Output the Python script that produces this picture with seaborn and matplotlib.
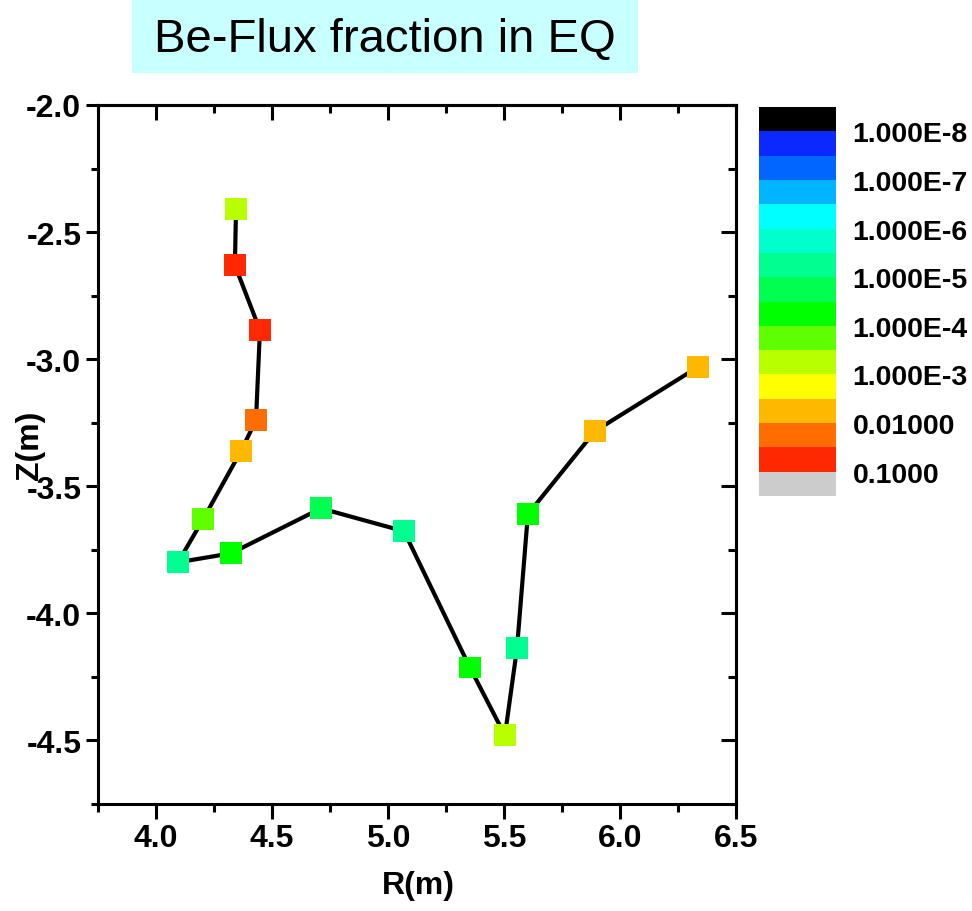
import numpy as np
import pandas as pd
import matplotlib
matplotlib.use("Agg")
import matplotlib.pyplot as plt
import seaborn as sns
from matplotlib.colors import ListedColormap, BoundaryNorm
from matplotlib.cm import ScalarMappable
from matplotlib.patches import Rectangle
from matplotlib.ticker import MultipleLocator

# ---- data ----
R = [4.345, 4.340, 4.448, 4.431, 4.366, 4.203, 4.095, 4.323, 4.711, 5.069,
     5.353, 5.504, 5.556, 5.603, 5.892, 6.336]
Z = [-2.409, -2.630, -2.886, -3.240, -3.362, -3.630, -3.799, -3.764, -3.587, -3.677,
     -4.213, -4.480, -4.138, -3.610, -3.283, -3.031]
flux = [5.6e-4, 0.056, 0.056, 0.018, 0.0056, 1.8e-4, 5.6e-6, 5.6e-5, 1.8e-5, 5.6e-6,
        5.6e-5, 5.6e-4, 5.6e-6, 5.6e-5, 0.0056, 0.0056]
level_colors = ["#000000", "#0A28FF", "#0066FF", "#00B4FF", "#00FFFF", "#00FFCC",
                "#00FF90", "#00FF50", "#00FF00", "#60FF00", "#B8FF00", "#FFFF00",
                "#FFB800", "#FF6C00", "#FF2800", "#CCCCCC"]
cbar_ticks = [-8, -7, -6, -5, -4, -3, -2, -1]
cbar_labels = ["1.000E-8", "1.000E-7", "1.000E-6", "1.000E-5", "1.000E-4",
               "1.000E-3", "0.01000", "0.1000"]
x_ticks = [4.0, 4.5, 5.0, 5.5, 6.0, 6.5]
y_ticks = [-2.0, -2.5, -3.0, -3.5, -4.0, -4.5]

sns.set_theme(style="ticks")
plt.rcParams["font.family"] = ["Liberation Sans", "DejaVu Sans"]
plt.rcParams.update({"text.color": "black", "xtick.color": "black",
                     "ytick.color": "black", "axes.labelcolor": "black",
                     "axes.edgecolor": "black"})
lab = dict(fontfamily=["Liberation Sans", "DejaVu Sans"], fontweight="bold",
           fontsize=23, color="black")

cmap = ListedColormap(level_colors)
bounds = np.arange(-8.5, -0.49, 0.5)
norm = BoundaryNorm(bounds, cmap.N)

df = pd.DataFrame({"R": R, "Z": Z, "logf": np.log10(flux)})
df["color"] = [matplotlib.colors.to_hex(cmap(norm(v))) for v in df["logf"]]
df["idx"] = range(len(df))

W, H = 972, 912
fig = plt.figure(figsize=(W / 100, H / 100), dpi=100)

def fx(px):
    return px / W

def fy(py):
    return 1 - py / H

ax = fig.add_axes([fx(98), fy(805), fx(736) - fx(98), fy(106) - fy(805)])
sns.lineplot(data=df, x="R", y="Z", sort=False, estimator=None, color="black",
             linewidth=3, ax=ax, zorder=2)
pal = {i: c for i, c in zip(df["idx"], df["color"])}
sns.scatterplot(data=df, x="R", y="Z", hue="idx", palette=pal, legend=False,
                marker="s", s=250, linewidth=0, ax=ax, zorder=3)

ax.set_xlim(3.75, 6.5)
ax.set_ylim(-4.75, -2.0)
ax.set_xticks(x_ticks)
ax.set_yticks(y_ticks)
ax.xaxis.set_minor_locator(MultipleLocator(0.25))
ax.yaxis.set_minor_locator(MultipleLocator(0.25))
ax.set_xticklabels([f"{v:.1f}" for v in x_ticks], **lab)
ax.set_yticklabels([f"{v:.1f}" for v in y_ticks], **lab)
for sp in ax.spines.values():
    sp.set_visible(True)
    sp.set_linewidth(2.2)
    sp.set_color("black")
ax.tick_params(which="major", direction="out", length=9, width=2.2, color="black",
               top=False, right=False, pad=3)
ax.tick_params(which="minor", direction="out", length=5, width=2.2, color="black",
               top=False, right=False)
ax.tick_params(axis="x", which="major", length=11, pad=3)
ax.tick_params(axis="x", which="minor", length=6)
ax.set_xlabel("")
ax.set_ylabel("")
ax.grid(False)
# inward ticks on top and right
axt = ax.secondary_xaxis("top")
axt.set_xticks(x_ticks)
axt.xaxis.set_minor_locator(MultipleLocator(0.25))
axt.tick_params(which="major", direction="in", length=11, width=2.2, labeltop=False,
                color="black")
axt.tick_params(which="minor", direction="in", length=6, width=2.2, color="black")
axt.spines["top"].set_linewidth(2.2)
axr = ax.secondary_yaxis("right")
axr.set_yticks(y_ticks)
axr.yaxis.set_minor_locator(MultipleLocator(0.25))
axr.tick_params(which="major", direction="in", length=11, width=2.2, labelright=False,
                color="black")
axr.tick_params(which="minor", direction="in", length=6, width=2.2, color="black")
axr.spines["right"].set_linewidth(2.2)

fig.text(fx(418), fy(886), "R(m)", ha="center", va="center", **lab)
fig.text(fx(30), fy(445), "Z(m)", ha="center", va="center", rotation=90, **lab)

# colorbar
cax = fig.add_axes([fx(759), fy(497), fx(836) - fx(759), fy(108) - fy(497)])
sm = ScalarMappable(norm=norm, cmap=cmap)
cb = fig.colorbar(sm, cax=cax, ticks=cbar_ticks, spacing="uniform")
cb.outline.set_visible(False)
cax.invert_yaxis()
cax.minorticks_off()
cb.set_ticklabels(cbar_labels)
cax.tick_params(which="both", length=0, pad=12)
for t in cax.get_yticklabels():
    t.set_fontfamily(["Liberation Sans", "DejaVu Sans"])
    t.set_fontweight("bold")
    t.set_fontsize(20.5)
    t.set_color("black")

# title box
fig.patches.append(Rectangle((fx(132), fy(74)), fx(638) - fx(132), fy(0) - fy(74),
                             transform=fig.transFigure, facecolor="#C8FFFF",
                             edgecolor="none", zorder=0))
fig.text(fx(385), fy(40), "Be-Flux fraction in EQ", ha="center", va="center",
         fontsize=34, color="black")

fig.savefig("out.png", dpi=100)
